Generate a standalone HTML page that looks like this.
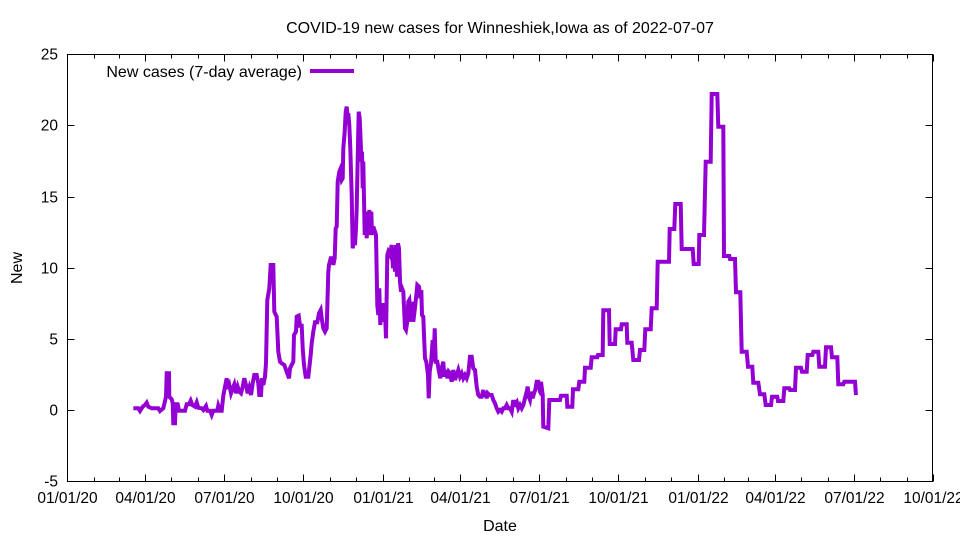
<!DOCTYPE html>
<html><head><meta charset="utf-8"><style>
html,body{margin:0;padding:0;background:#fff;}
svg{display:block;font-family:"Liberation Sans",Arial,sans-serif;}
</style></head><body>
<svg id="s" width="960" height="540" viewBox="0 0 960 540" xmlns="http://www.w3.org/2000/svg">
<rect width="960" height="540" fill="#fff"/>
<text x="500" y="33" font-size="16" text-anchor="middle">COVID-19 new cases for Winneshiek,Iowa as of 2022-07-07</text>
<g id="ticks" stroke="#000" stroke-width="1"></g>
<rect x="67.5" y="54.5" width="865" height="427" fill="none" stroke="#000" stroke-width="1"/>
<g id="labels" font-size="15.5"></g>
<text x="500" y="531" font-size="16" text-anchor="middle">Date</text>
<text transform="translate(22,268) rotate(-90)" font-size="16" text-anchor="middle">New</text>
<text x="302" y="77" font-size="16" text-anchor="end">New cases (7-day average)</text>
<line x1="310" y1="71" x2="354" y2="71" stroke="#9400d3" stroke-width="4"/>
<polyline id="pl" fill="none" stroke="#9400d3" stroke-width="4" stroke-linejoin="miter" points=""/>
</svg>
<script>
var NS="http://www.w3.org/2000/svg";
var tk=document.getElementById('ticks'),lb=document.getElementById('labels');
function ln(x1,y1,x2,y2){var l=document.createElementNS(NS,'line');l.setAttribute('x1',x1);l.setAttribute('y1',y1);l.setAttribute('x2',x2);l.setAttribute('y2',y2);tk.appendChild(l);}
function tx(x,y,t,a){var e=document.createElementNS(NS,'text');e.setAttribute('x',x);e.setAttribute('y',y);e.setAttribute('text-anchor',a);e.textContent=t;lb.appendChild(e);}
for(var v=-5;v<=25;v+=5){var y=410-v*14.233;y=Math.round(y)+0.5;ln(67.5,y,74.5,y);ln(932.5,y,925.5,y);tx(58,y+5,String(v),'end');}
var dl=["01/01/20","04/01/20","07/01/20","10/01/20","01/01/21","04/01/21","07/01/21","10/01/21","01/01/22","04/01/22","07/01/22","10/01/22"];
var mdays=[31,29,31,30,31,30,31,31,30,31,30,31,31,28,31,30,31,30,31,31,30,31,30,31,31,28,31,30,31,30,31,31,30,31,30,31];
var d=0,pd=866/1004;
for(var m=0;m<=33;m++){var x=Math.round(67+d*pd)+0.5;var maj=(m%3==0);var L=maj?7:4;ln(x,481.5,x,481.5-L);ln(x,54.5,x,54.5+L);if(maj)tx(x,503,dl[m/3],'middle');d+=mdays[m];}
var pts=[];
function add(ox,oy,arr,xmin,xmax){for(var i=0;i<arr.length;i++){var X=arr[i][0]/3+ox,Y=arr[i][1]/3+oy;if(X>=xmin&&X<xmax)pts.push([X,Y]);}}
var z3=[[10,505],[25,505],[30,513],[38,500],[45,495],[50,488],[55,500],[65,505],[85,505],[90,513],[100,505],[108,470],[110,400],[117,400],[118,470],[125,478],[128,490],[130,550],[135,550],[137,493],[143,493],[147,512],[165,512],[170,493],[177,493],[182,482],[187,495],[195,500],[200,487],[205,503],[215,505],[220,510],[228,498],[232,512],[240,512],[245,525],[250,512],[262,512],[265,497],[270,512],[275,512],[280,467],[285,440],[290,415],[293,447],[298,435],[303,460],[308,445],[313,433],[318,460],[323,440],[328,455],[333,460],[338,440],[343,415],[348,435],[353,460],[358,443],[363,465],[368,430],[373,405],[380,405],[385,430],[388,465],[393,465],[396,415],[400,435],[405,410],[408,370],[412,180],[418,145],[422,75],[430,75],[433,215],[440,230],[445,335],[450,365],[455,370],[463,375],[470,395],[477,415]];
var z4=[[0,820],[10,800],[12,720],[18,710],[20,665],[26,662],[30,692],[35,692],[38,760],[42,810],[47,845],[55,845],[62,780],[65,745],[70,710],[75,682],[82,682],[87,655],[92,645],[95,670],[100,700],[105,710],[110,700],[115,530],[117,510],[122,490],[128,490],[130,510],[134,490],[137,400],[140,395],[143,260],[148,230],[150,225],[155,255],[158,250],[160,160],[164,110],[167,50],[170,35],[173,70],[175,55],[178,90],[181,160],[185,300],[188,460],[192,440],[195,450],[198,400],[200,340],[203,190],[206,50],[209,70],[212,140],[214,200],[216,170],[218,280],[220,200],[222,310],[224,420],[227,350],[230,430],[233,350],[236,420],[238,345],[241,410],[244,350],[246,420],[250,395],[255,410],[258,420],[262,630],[265,660],[268,580],[271,690],[274,625],[277,680],[280,630],[284,630],[288,730],[292,480],[295,470],[300,480],[305,450],[309,520],[312,460],[315,530],[318,450],[321,545],[324,445],[327,460],[330,560],[333,590],[336,580],[340,590],[345,700],[348,705],[352,680],[355,620],[358,615],[362,680],[365,620],[370,680],[374,645],[378,610],[382,570],[387,575],[391,610],[394,585],[396,660],[400,665],[402,720],[405,790],[409,800],[414,840],[416,910],[419,830],[423,805],[428,735],[431,800],[434,700],[437,800],[442,800],[446,825],[451,850],[455,820],[460,800],[463,845],[468,825],[472,850],[476,830]];
var z5=[[240,520],[245,545],[250,510],[255,540],[260,525],[265,510],[270,530],[275,520],[280,535],[285,525],[290,535],[295,520],[300,470],[305,470],[310,505],[315,510],[320,560],[325,585],[330,590],[335,590],[340,570],[343,590],[346,575],[350,595],[353,580],[358,585],[365,585],[370,600],[375,610],[380,625],[385,635],[390,630],[395,635],[400,625],[405,625],[410,615],[415,625],[420,625],[425,635],[430,600],[433,620],[436,610],[440,605],[445,625],[450,615],[455,625],[460,615],[465,595],[470,575],[473,560],[476,590],[480,600],[484,575],[488,595],[492,580],[496,570],[500,545],[505,545],[510,575],[515,585]];
var z6=[[3,890],[8,930],[10,1025],[25,1030],[28,945],[60,945],[63,932],[80,932],[82,965],[97,965],[99,913],[115,913],[118,890],[133,890],[135,848],[152,848],[155,817],[172,817],[174,810],[188,810],[190,676],[207,676],[209,777],[225,777],[227,733],[243,733],[245,718],[260,718],[262,773],[275,773],[280,825],[297,825],[300,795],[313,795],[316,733],[332,733],[335,670],[350,670],[353,530],[387,530],[389,432],[403,432],[406,357],[422,357],[425,492],[458,492],[461,537],[476,537],[478,450],[492,450],[497,230],[512,230],[515,27],[532,27],[535,125],[550,125],[552,513],[568,513],[570,522],[585,522],[588,622],[601,622],[605,800],[620,800],[624,845],[637,845],[640,893],[655,893],[660,928],[673,928],[677,960],[693,960],[696,935],[712,935],[714,948],[730,948],[733,910],[748,910],[750,915],[765,915],[768,848],[783,848],[786,860],[800,860],[803,810],[817,810],[820,800],[835,800],[838,845],[855,845],[858,787],[873,787],[876,817],[892,817],[895,898],[910,898],[913,890],[945,890],[948,930]];
add(130,240,z3,0,290);add(290,95,z4,290,450);add(370,200,z5,450,542);add(540,85,z6,540,900);
document.getElementById('pl').setAttribute('points',pts.map(function(p){return p[0].toFixed(1)+','+p[1].toFixed(1);}).join(' '));
</script>
</body></html>
